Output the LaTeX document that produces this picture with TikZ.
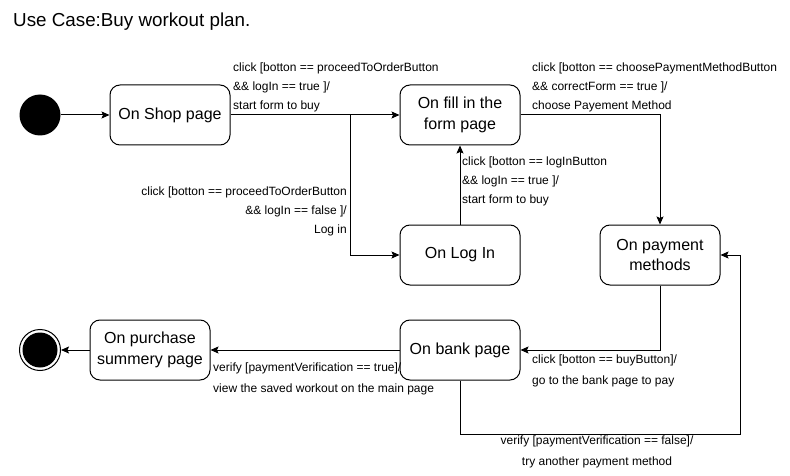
\documentclass[tikz,border=0pt]{standalone}
\usepackage{fontspec}
\setmainfont{Liberation Sans}
\usetikzlibrary{arrows.meta,positioning,calc}
\tikzset{
  state/.style={draw, line width=1pt, rounded corners=10pt, minimum width=120pt, minimum height=60pt, align=center, inner sep=2pt, font=\fontsize{16}{20.5}\selectfont},
  arr/.style={line width=1pt, -{Stealth[length=8pt,width=7pt,inset=1.5pt]}},
  trans/.style={inner sep=0pt, font=\fontsize{12}{19}\selectfont}
}
\begin{document}
\begin{tikzpicture}[x=1pt,y=-1pt]
\useasboundingbox (0,0) rectangle (790,476);
\node[anchor=base west, inner sep=0pt, font=\fontsize{18.8}{22}\selectfont] (title) at (13,27) {Use Case:Buy workout plan.};
\node[circle, fill, minimum size=41pt, inner sep=0pt] (init) at (40,115) {};
\node[state] (shop) at (170,115) {On Shop page};
\node[state] (form) at (460,115) {On fill in the\\form page};
\node[state] (login) at (460,255) {On Log In};
\node[state] (pay) at (660,255) {On payment\\methods};
\node[state] (bank) at (460,350) {On bank page};
\node[state] (summary) at (150,350) {On purchase\\summery page};
\node[circle, draw, line width=1pt, minimum size=41pt, inner sep=0pt] (final) at (40,350) {};
\node[circle, fill, minimum size=35pt, inner sep=0pt] (finaldot) at (final) {};
\coordinate (split) at (350,115);
\coordinate (loop) at (740,434);
\draw[arr] (init) -- (shop);
\draw[arr] (shop) -- (form);
\draw[arr] (split) |- (login);
\draw[arr] (login) -- (form);
\draw[arr] (form) -| (pay);
\draw[arr] (pay) |- (bank);
\draw[arr] (bank) -- (summary);
\draw[arr] (summary) -- (final);
\draw[arr] (bank.south) |- (loop) |- (pay);
\node[trans, anchor=north west, align=left] (t1) at (233,63) {click [botton == proceedToOrderButton\\\&\& logIn == true ]/\\start form to buy};
\node[trans, anchor=north west, align=left] (t2) at (532,63) {click [botton == choosePaymentMethodButton\\\&\& correctForm == true ]/\\choose Payement Method};
\node[trans, anchor=north west, align=left] (t3) at (462,157) {click [botton == logInButton\\\&\& logIn == true ]/\\start form to buy};
\node[trans, anchor=north east, align=right] (t4) at (347,187) {click [botton == proceedToOrderButton\\\&\& logIn == false ]/\\Log in};
\node[trans, anchor=north west, align=left] (t5) at (532,355) {click [botton == buyButton]/\\[2pt]go to the bank page to pay};
\node[trans, anchor=north west, align=left] (t6) at (213,363) {verify [paymentVerification == true]/\\[2pt]view the saved workout on the main page};
\node[trans, anchor=north, align=center] (t7) at (597,436) {verify [paymentVerification == false]/\\[2pt]try another payment method};
\end{tikzpicture}
\end{document}
